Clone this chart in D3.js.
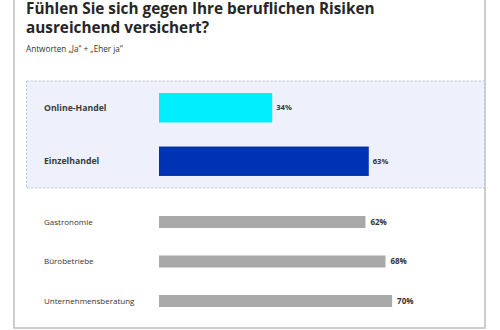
<!DOCTYPE html>
<html>
<head>
<meta charset="utf-8">
<script src="https://cdn.jsdelivr.net/npm/d3@7"></script>
<style>
  body { margin: 0; background: #fff; }
  svg { display: block; font-family: "Open Sans", "Noto Sans", sans-serif; }
</style>
</head>
<body>
<script>
// highlighted sectors (inside the dashed box)
const focusCategories = ["Online-Handel", "Einzelhandel"];
const focusValues = [34, 63];
const focusColors = ["#00eefc", "#0033b4"];

// comparison sectors
const otherCategories = ["Gastronomie", "Bürobetriebe", "Unternehmensberatung"];
const otherValues = [62, 68, 70];

const titleLines = ["Fühlen Sie sich gegen Ihre beruflichen Risiken", "ausreichend versichert?"];
const subtitle = "Antworten „Ja“ + „Eher ja“";

const width = 500, height = 330;

const svg = d3.select("body").append("svg")
  .attr("width", width)
  .attr("height", height);

// outer frame (top edge is cut off)
svg.append("path")
  .attr("d", "M14,-2 V328 H485 V-2")
  .attr("fill", "none")
  .attr("stroke", "#bdbdbd")
  .attr("stroke-width", 1.5);

// title
svg.append("g").selectAll("text")
  .data(titleLines)
  .join("text")
  .attr("x", 26)
  .attr("y", (d, i) => 14 + i * 19)
  .attr("font-size", 15.3)
  .attr("font-weight", "bold")
  .attr("fill", "#262626")
  .text(d => d);

svg.append("text")
  .attr("x", 26)
  .attr("y", 52)
  .attr("font-size", 8.2)
  .attr("fill", "#333")
  .text(subtitle);

// highlight box
svg.append("rect")
  .attr("x", 26.5)
  .attr("y", 81)
  .attr("width", 458)
  .attr("height", 107)
  .attr("fill", "#eef1fc")
  .attr("stroke", "#b9bccb")
  .attr("stroke-width", 0.8)
  .attr("stroke-dasharray", "2.5,1.5");

// shared x scale
const x = d3.scaleLinear()
  .domain([0, 100])
  .range([159, 492]);

const yFocus = d3.scaleBand()
  .domain(focusCategories)
  .range([81, 188])
  .paddingInner(0.45)
  .paddingOuter(0.225);

const yOther = d3.scaleBand()
  .domain(otherCategories)
  .range([202.25, 320.75])
  .paddingInner(0.696)
  .paddingOuter(0.348);

const focusData = focusCategories.map((c, i) => ({ c, v: focusValues[i], color: focusColors[i] }));
const otherData = otherCategories.map((c, i) => ({ c, v: otherValues[i] }));

// focus bars
const gF = svg.append("g");
gF.selectAll("rect")
  .data(focusData)
  .join("rect")
  .attr("x", x(0))
  .attr("y", d => yFocus(d.c))
  .attr("width", d => x(d.v) - x(0))
  .attr("height", yFocus.bandwidth())
  .attr("fill", d => d.color);

gF.selectAll("text.cat")
  .data(focusData)
  .join("text")
  .attr("class", "cat")
  .attr("x", 44)
  .attr("y", d => yFocus(d.c) + yFocus.bandwidth() / 2)
  .attr("dy", "0.35em")
  .attr("font-size", 8.7)
  .attr("font-weight", "bold")
  .attr("fill", "#3a3a3a")
  .text(d => d.c);

gF.selectAll("text.val")
  .data(focusData)
  .join("text")
  .attr("class", "val")
  .attr("x", d => x(d.v) + 4)
  .attr("y", d => yFocus(d.c) + yFocus.bandwidth() / 2)
  .attr("dy", "0.35em")
  .attr("font-size", 7.6)
  .attr("font-weight", "bold")
  .attr("fill", "#333")
  .text(d => d.v + "%");

// other bars
const gO = svg.append("g");
gO.selectAll("rect")
  .data(otherData)
  .join("rect")
  .attr("x", x(0))
  .attr("y", d => yOther(d.c))
  .attr("width", d => x(d.v) - x(0))
  .attr("height", yOther.bandwidth())
  .attr("fill", "#a8a8a8");

gO.selectAll("text.cat")
  .data(otherData)
  .join("text")
  .attr("class", "cat")
  .attr("x", 44)
  .attr("y", d => yOther(d.c) + yOther.bandwidth() / 2)
  .attr("dy", "0.35em")
  .attr("font-size", 8)
  .attr("fill", "#333")
  .text(d => d.c);

gO.selectAll("text.val")
  .data(otherData)
  .join("text")
  .attr("class", "val")
  .attr("x", d => x(d.v) + 5)
  .attr("y", d => yOther(d.c) + yOther.bandwidth() / 2)
  .attr("dy", "0.35em")
  .attr("font-size", 8)
  .attr("font-weight", "bold")
  .attr("fill", "#333")
  .text(d => d.v + "%");
</script>
</body>
</html>
